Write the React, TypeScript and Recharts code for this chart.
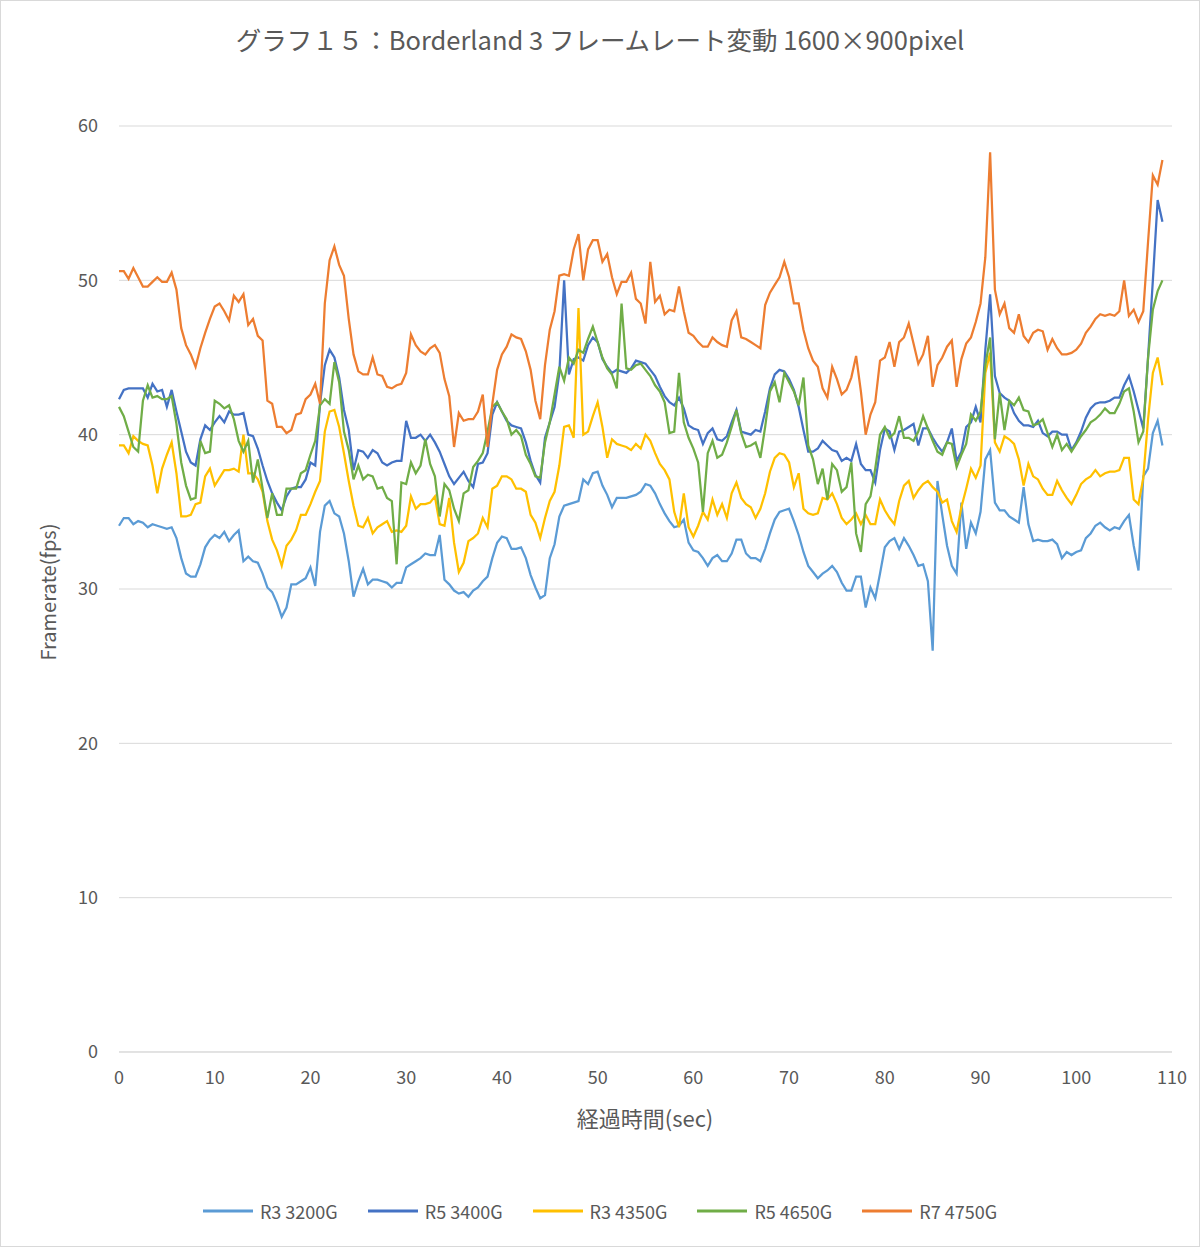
import React from 'react';
import { LineChart, Line, XAxis, YAxis, CartesianGrid, Legend } from 'recharts';

// Sampling interval of the recording (seconds)
const STEP = 0.5;

const SERIES_NAMES = ['R3 3200G', 'R5 3400G', 'R3 4350G', 'R5 4650G', 'R7 4750G'];
const SERIES_COLORS = ['#5B9BD5', '#4472C4', '#FFC000', '#70AD47', '#ED7D31'];

const X_TICKS = [0, 10, 20, 30, 40, 50, 60, 70, 80, 90, 100, 110];
const Y_TICKS = [0, 10, 20, 30, 40, 50, 60];

const R3_3200G = [
  34.1, 34.6, 34.6, 34.2, 34.4, 34.3, 34.0, 34.2, 34.1, 34.0,
  33.9, 34.0, 33.3, 32.0, 31.0, 30.8, 30.8, 31.6, 32.7, 33.2,
  33.5, 33.3, 33.7, 33.1, 33.5, 33.8, 31.8, 32.1, 31.8, 31.7,
  31.0, 30.1, 29.8, 29.1, 28.2, 28.8, 30.3, 30.3, 30.5, 30.7,
  31.4, 30.2, 33.7, 35.4, 35.7, 34.9, 34.7, 33.6, 31.8, 29.5,
  30.5, 31.3, 30.3, 30.6, 30.6, 30.5, 30.4, 30.1, 30.4, 30.4,
  31.4, 31.6, 31.8, 32.0, 32.3, 32.2, 32.2, 33.5, 30.6, 30.3,
  29.9, 29.7, 29.8, 29.5, 29.9, 30.1, 30.5, 30.8, 32.0, 33.0,
  33.4, 33.3, 32.6, 32.6, 32.7, 32.0, 30.9, 30.1, 29.4, 29.6,
  32.0, 32.9, 34.7, 35.4, 35.5, 35.6, 35.7, 37.1, 36.8, 37.5,
  37.6, 36.7, 36.1, 35.3, 35.9, 35.9, 35.9, 36.0, 36.1, 36.3,
  36.8, 36.7, 36.2, 35.5, 34.9, 34.4, 34.0, 34.1, 34.5, 33.0,
  32.5, 32.4, 32.0, 31.5, 32.0, 32.2, 31.8, 31.8, 32.3, 33.2,
  33.2, 32.3, 32.0, 32.0, 31.8, 32.6, 33.6, 34.5, 35.0, 35.1,
  35.2, 34.4, 33.5, 32.4, 31.5, 31.1, 30.7, 31.0, 31.2, 31.5,
  31.1, 30.4, 29.9, 29.9, 30.8, 30.8, 28.8, 30.1, 29.4, 31.0,
  32.7, 33.1, 33.3, 32.6, 33.3, 32.8, 32.2, 31.5, 31.6, 30.5,
  26.0, 37.0, 34.8, 32.8, 31.5, 31.0, 35.6, 32.6, 34.3, 33.6,
  35.0, 38.4, 39.0, 35.6, 35.1, 35.1, 34.7, 34.5, 34.3, 36.6,
  34.2, 33.1, 33.2, 33.1, 33.1, 33.2, 32.9, 32.0, 32.4, 32.2,
  32.4, 32.5, 33.3, 33.6, 34.1, 34.3, 34.0, 33.8, 34.0, 33.9,
  34.4, 34.8, 32.8, 31.2, 37.3, 37.8, 40.1, 40.9, 39.3,
];

const R5_3400G = [
  42.3, 42.9, 43.0, 43.0, 43.0, 43.0, 42.4, 43.3, 42.8, 42.9,
  41.8, 42.9, 41.5, 40.2, 38.9, 38.2, 38.0, 39.7, 40.6, 40.3,
  40.8, 41.2, 40.8, 41.5, 41.3, 41.3, 41.4, 40.0, 39.9, 39.1,
  38.0, 37.0, 36.2, 35.6, 35.1, 36.0, 36.5, 36.6, 36.6, 37.1,
  38.2, 38.0, 42.0, 44.5, 45.5, 45.0, 43.7, 41.6, 40.3, 37.7,
  39.0, 38.9, 38.5, 39.0, 38.8, 38.2, 38.0, 38.2, 38.3, 38.3,
  40.9, 39.8, 39.8, 40.0, 39.6, 40.0, 39.5, 38.9, 38.1, 37.3,
  36.8, 37.2, 37.6, 37.0, 36.6, 38.1, 38.2, 38.8, 41.3, 42.1,
  41.5, 40.9, 40.6, 40.5, 40.4, 39.5, 38.3, 37.4, 36.9, 39.8,
  40.8, 41.8, 44.0, 50.0, 43.9, 44.9, 45.0, 44.8, 45.8, 46.3,
  46.0, 44.9, 44.4, 44.0, 44.2, 44.1, 44.0, 44.3, 44.8, 44.7,
  44.6, 44.2, 43.8, 43.1, 42.5, 42.1, 41.9, 42.4, 41.7, 40.6,
  40.4, 40.3, 39.4, 40.1, 40.4, 39.7, 39.6, 39.9, 40.8, 41.6,
  40.2, 40.1, 40.0, 40.3, 40.2, 41.5, 43.0, 43.9, 44.2, 44.1,
  43.6, 42.9, 41.8, 40.3, 38.9, 38.9, 39.1, 39.6, 39.3, 39.0,
  38.9, 38.3, 38.5, 38.3, 39.4, 38.1, 37.7, 37.7, 36.9, 39.0,
  40.4, 40.2, 39.0, 40.2, 40.3, 40.5, 40.7, 39.3, 40.4, 40.4,
  39.8, 39.3, 38.9, 39.5, 40.4, 38.3, 38.9, 40.5, 40.8, 41.8,
  40.8, 45.5, 49.1, 43.8, 42.7, 42.4, 42.2, 41.4, 40.9, 40.6,
  40.6, 40.5, 40.9, 40.1, 39.9, 40.2, 40.2, 40.0, 40.0, 39.0,
  39.5, 40.2, 41.1, 41.7, 42.0, 42.1, 42.1, 42.2, 42.4, 42.4,
  43.2, 43.8, 42.8, 41.6, 40.4, 45.0, 50.0, 55.2, 53.8,
];

const R3_4350G = [
  39.3, 39.3, 38.8, 39.9, 39.6, 39.4, 39.3, 38.0, 36.2, 37.8,
  38.7, 39.5, 37.5, 34.7, 34.7, 34.8, 35.5, 35.6, 37.3, 37.8,
  36.7, 37.2, 37.7, 37.7, 37.8, 37.6, 40.0, 37.5, 37.5, 37.1,
  36.3, 34.4, 33.2, 32.5, 31.5, 32.8, 33.2, 33.8, 34.8, 34.8,
  35.5, 36.3, 37.0, 40.2, 41.5, 41.6, 40.5, 38.8, 37.0, 35.4,
  34.1, 34.0, 34.6, 33.6, 34.0, 34.2, 34.4, 33.7, 33.8, 33.7,
  34.1, 36.0, 35.2, 35.5, 35.5, 35.6, 36.0, 34.2, 34.1, 35.9,
  33.0, 31.1, 31.7, 33.1, 33.3, 33.6, 34.6, 34.0, 36.5, 36.7,
  37.3, 37.3, 37.1, 36.5, 36.5, 36.3, 34.8, 34.3, 33.3, 34.6,
  35.7, 36.3, 38.0, 40.5, 40.6, 39.8, 48.2, 40.0, 40.2, 41.2,
  42.1, 40.5, 38.5, 39.7, 39.4, 39.3, 39.2, 39.0, 39.4, 39.1,
  40.0, 39.6, 38.8, 38.1, 37.7, 37.1, 35.0, 34.0, 36.2, 34.0,
  33.4, 34.1, 35.0, 34.5, 35.8, 34.8, 35.5, 34.6, 36.2, 36.9,
  35.9, 35.5, 35.3, 34.6, 35.2, 36.2, 37.6, 38.5, 38.8, 38.7,
  38.2, 36.6, 37.5, 35.2, 34.9, 34.8, 34.9, 35.9, 35.8, 36.2,
  35.5, 34.6, 34.2, 34.5, 34.9, 34.2, 34.8, 34.2, 34.2, 35.8,
  35.1, 34.6, 34.2, 35.7, 36.7, 37.0, 35.9, 36.4, 36.8, 37.0,
  36.6, 36.3, 35.6, 35.8, 34.4, 33.7, 35.3, 36.5, 37.8, 37.2,
  38.0, 44.0, 45.3, 39.5, 38.9, 39.9, 39.7, 39.4, 38.4, 36.7,
  38.1, 37.3, 37.1, 36.5, 36.1, 36.1, 37.0, 36.4, 35.9, 35.5,
  36.1, 36.8, 37.1, 37.3, 37.7, 37.3, 37.5, 37.6, 37.6, 37.7,
  38.5, 38.5, 35.8, 35.5, 37.2, 41.0, 44.0, 45.0, 43.2,
];

const R5_4650G = [
  41.8, 41.2, 40.2, 39.2, 38.9, 42.2, 43.2, 42.4, 42.5, 42.3,
  42.3, 42.5, 40.7, 38.2, 36.7, 35.8, 35.9, 39.6, 38.8, 38.9,
  42.2, 42.0, 41.7, 41.9, 41.0, 39.6, 38.9, 39.6, 36.9, 38.4,
  36.5, 34.6, 36.2, 34.8, 34.8, 36.5, 36.5, 36.5, 37.5, 37.7,
  38.7, 39.6, 41.9, 42.3, 42.0, 44.7, 43.4, 40.2, 39.0, 37.1,
  38.0, 37.1, 37.4, 37.3, 36.5, 36.6, 35.9, 35.7, 31.6, 36.9,
  36.8, 38.2, 37.5, 38.0, 39.7, 38.1, 37.3, 34.7, 36.8, 36.4,
  35.2, 34.4, 36.2, 36.4, 37.9, 38.3, 38.8, 40.2, 41.8, 42.1,
  41.5, 41.0, 40.0, 40.3, 39.9, 38.7, 38.1, 37.3, 37.2, 39.5,
  40.8, 42.6, 44.4, 43.5, 45.0, 44.6, 45.5, 45.3, 46.2, 47.0,
  46.0, 45.0, 44.3, 43.9, 43.0, 48.5, 44.3, 44.2, 44.5, 44.6,
  44.2, 43.8, 43.2, 42.8, 42.1, 40.1, 40.2, 44.0, 40.8, 39.8,
  39.1, 38.2, 35.0, 38.8, 39.6, 38.5, 38.7, 39.5, 40.5, 41.6,
  40.1, 39.2, 39.3, 39.5, 38.5, 40.5, 42.8, 43.4, 42.1, 44.0,
  43.4, 42.8, 41.9, 43.7, 39.3, 38.4, 36.8, 37.8, 35.8, 38.1,
  37.7, 36.3, 36.6, 38.2, 33.6, 32.4, 35.5, 36.0, 37.8, 40.0,
  40.5, 39.8, 40.1, 41.2, 39.8, 39.8, 39.6, 40.2, 41.2, 40.4,
  39.6, 38.9, 38.7, 39.5, 39.4, 37.9, 38.7, 39.4, 41.3, 40.9,
  41.5, 44.5, 46.3, 39.7, 42.7, 40.3, 42.2, 41.9, 42.4, 41.6,
  41.5, 40.6, 40.7, 41.0, 40.1, 39.2, 40.0, 39.0, 39.4, 38.9,
  39.4, 39.9, 40.3, 40.8, 41.0, 41.3, 41.7, 41.4, 41.4, 42.0,
  42.8, 43.0, 41.5, 39.5, 40.2, 45.0, 48.1, 49.3, 50.0,
];

const R7_4750G = [
  50.6, 50.6, 50.1, 50.8, 50.2, 49.6, 49.6, 49.9, 50.2, 49.9,
  49.9, 50.5, 49.4, 46.9, 45.8, 45.2, 44.4, 45.6, 46.6, 47.5,
  48.3, 48.5, 48.0, 47.4, 49.0, 48.6, 49.1, 47.1, 47.5, 46.4,
  46.1, 42.2, 42.0, 40.5, 40.5, 40.1, 40.3, 41.3, 41.4, 42.3,
  42.6, 43.3, 42.0, 48.5, 51.3, 52.2, 51.0, 50.3, 47.5, 45.2,
  44.1, 43.9, 43.9, 45.0, 43.9, 43.8, 43.1, 43.0, 43.2, 43.3,
  44.0, 46.5, 45.8, 45.4, 45.2, 45.6, 45.8, 45.3, 43.6, 42.5,
  39.2, 41.4, 40.9, 41.0, 41.0, 41.5, 42.6, 39.2, 42.0, 44.2,
  45.2, 45.7, 46.5, 46.3, 46.2, 45.4, 44.2, 42.2, 41.0, 44.5,
  46.8, 48.0, 50.3, 50.4, 50.3, 52.0, 53.0, 50.0, 52.0, 52.6,
  52.6, 51.2, 51.7, 50.2, 49.1, 49.9, 49.9, 50.5, 48.8, 48.5,
  47.2, 51.2, 48.6, 49.0, 47.8, 48.1, 48.0, 49.6, 48.0, 46.6,
  46.4, 46.0, 45.7, 45.7, 46.3, 46.0, 45.8, 45.7, 47.4, 48.0,
  46.3, 46.2, 46.0, 45.8, 45.6, 48.4, 49.2, 49.7, 50.2, 51.2,
  50.2, 48.5, 48.5, 46.8, 45.6, 44.8, 44.4, 43.0, 42.4, 44.4,
  43.6, 42.6, 42.9, 43.7, 45.1, 42.8, 40.0, 41.3, 42.1, 44.8,
  45.0, 46.0, 44.4, 46.0, 46.3, 47.2, 45.9, 44.6, 45.2, 46.4,
  43.1, 44.5, 45.0, 45.7, 46.1, 43.1, 44.9, 45.9, 46.3, 47.3,
  48.5, 51.5, 58.3, 49.4, 47.8, 48.5, 46.9, 46.6, 47.8, 46.4,
  46.0, 46.6, 46.8, 46.7, 45.5, 46.2, 45.6, 45.2, 45.2, 45.3,
  45.5, 45.9, 46.6, 47.0, 47.5, 47.8, 47.7, 47.8, 47.7, 48.0,
  50.0, 47.7, 48.1, 47.3, 48.0, 52.5, 56.8, 56.2, 57.8,
];

const SERIES = [R3_3200G, R5_3400G, R3_4350G, R5_4650G, R7_4750G];
const KEYS = ['s1', 's2', 's3', 's4', 's5'];

const FONT = '"Noto Sans CJK JP", "Noto Sans", sans-serif';
const TEXT = '#595959';

const data = R3_3200G.map((_, i) => {
  const row: Record<string, number> = { t: i * STEP };
  SERIES.forEach((s, k) => {
    row[KEYS[k]] = s[i];
  });
  return row;
});

const LegendContent = (props: any) => {
  const payload = [...(props.payload || [])].sort(
    (a: any, b: any) => SERIES_NAMES.indexOf(a.value) - SERIES_NAMES.indexOf(b.value)
  );
  return (
    <div
      style={{
        display: 'flex',
        justifyContent: 'center',
        alignItems: 'center',
        gap: 30,
        height: 26,
        fontFamily: FONT,
        fontSize: 18,
        color: TEXT,
      }}
    >
      {payload.map((p: any) => (
        <div key={p.value} style={{ display: 'flex', alignItems: 'center' }}>
          <svg width={50} height={6} style={{ marginRight: 7 }}>
            <line x1={0} y1={3} x2={50} y2={3} stroke={p.color} strokeWidth={3} />
          </svg>
          <span>{p.value}</span>
        </div>
      ))}
    </div>
  );
};

export default function App() {
  return (
    <div
      style={{
        position: 'absolute',
        left: 0,
        top: 0,
        width: 1200,
        height: 1247,
        background: '#ffffff',
        fontFamily: FONT,
        overflow: 'hidden',
      }}
    >
      <LineChart
        width={1200}
        height={1247}
        data={data}
        margin={{ top: 126, right: 28, bottom: 129, left: 0 }}
      >
        <CartesianGrid vertical={false} stroke="#d9d9d9" strokeWidth={1} />
        <XAxis
          dataKey="t"
          type="number"
          domain={[0, 110]}
          ticks={X_TICKS}
          interval={0}
          axisLine={{ stroke: '#d9d9d9', strokeWidth: 1 }}
          tickLine={false}
          tickSize={0}
          tickMargin={19}
          height={40}
          tick={{ fill: TEXT, fontSize: 18, fontFamily: FONT }}
        />
        <YAxis
          type="number"
          domain={[0, 60]}
          ticks={Y_TICKS}
          interval={0}
          axisLine={false}
          tickLine={false}
          tickSize={0}
          tickMargin={21}
          width={119}
          tick={{ fill: TEXT, fontSize: 18, fontFamily: FONT }}
        />
        <Legend
          content={<LegendContent />}
          verticalAlign="bottom"
          wrapperStyle={{ position: 'absolute', top: 1198, bottom: 'auto', left: 0, width: 1200 }}
        />
        {SERIES_NAMES.map((name, k) => (
          <Line
            key={name}
            type="linear"
            dataKey={KEYS[k]}
            name={name}
            stroke={SERIES_COLORS[k]}
            strokeWidth={2.25}
            dot={false}
            activeDot={false}
            isAnimationActive={false}
          />
        ))}
      </LineChart>

      <div
        style={{
          position: 'absolute',
          top: 22,
          left: 0,
          width: 1200,
          textAlign: 'center',
          fontSize: 25.5,
          lineHeight: '34px',
          color: TEXT,
        }}
      >
        グラフ１５：Borderland 3 フレームレート変動 1600×900pixel
      </div>

      <div
        style={{
          position: 'absolute',
          left: 47,
          top: 592,
          transform: 'translate(-50%, -50%) rotate(-90deg)',
          whiteSpace: 'nowrap',
          fontSize: 20,
          color: TEXT,
        }}
      >
        Framerate(fps)
      </div>

      <div
        style={{
          position: 'absolute',
          left: 645,
          top: 1117,
          transform: 'translate(-50%, -50%)',
          whiteSpace: 'nowrap',
          fontSize: 22,
          color: TEXT,
        }}
      >
        経過時間(sec)
      </div>

      <div
        style={{
          position: 'absolute',
          inset: 0,
          border: '1px solid #d9d9d9',
          boxSizing: 'border-box',
          pointerEvents: 'none',
        }}
      />
    </div>
  );
}
